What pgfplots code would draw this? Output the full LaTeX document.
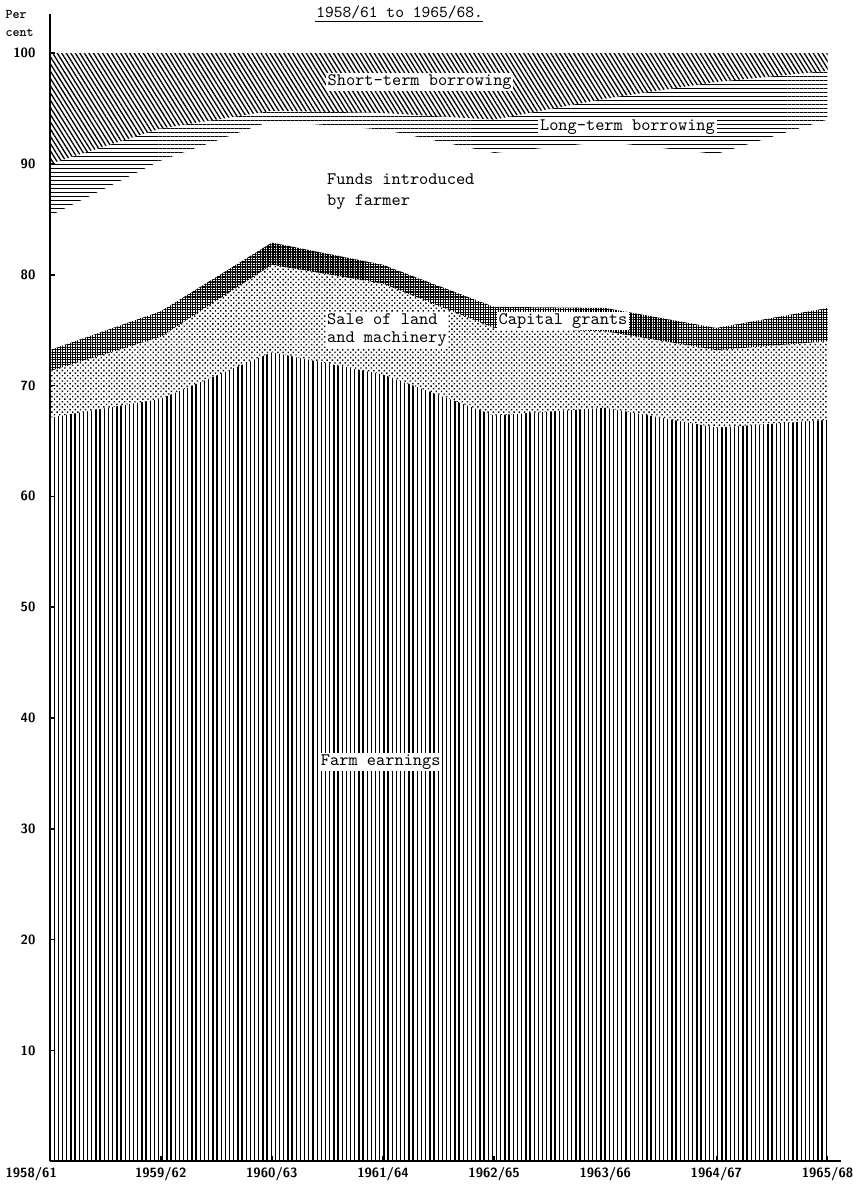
\documentclass[border=0pt]{standalone}
\usepackage{pgfplots}
\usepackage{pgfplotstable}
\pgfplotsset{compat=1.18}
\usetikzlibrary{patterns.meta}
\pgfplotstableread{
x farm sale capital funds long short
0 67.1 4.2 1.9 12.1 4.7 10.0
1 68.8 5.6 2.3 13.6 2.9 6.8
2 73.0 7.9 2.0 11.0 0.9 5.2
3 71.0 8.2 1.7 12.2 1.5 5.4
4 67.3 7.9 1.9 13.9 3.0 6.0
5 68.0 6.9 2.1 15.0 3.9 4.1
6 66.2 7.0 2.0 15.7 6.5 2.6
7 66.9 7.1 3.0 17.0 4.4 1.6
}\data
\begin{document}
\begin{tikzpicture}
\begin{axis}[
  scale only axis, width=474pt, height=687pt,
  xmin=0, xmax=7.12, ymin=0, ymax=103.5,
  axis lines*=left,
  axis line style={line width=1.3pt},
  xtick={0,...,7},
  xticklabels={\hspace*{-22pt}1958/61,1959/62,1960/63,1961/64,1962/65,1963/66,1964/67,1965/68},
  ytick={10,20,...,100},
  tick align=inside, major tick length=3pt,
  tick style={black, line width=1pt},
  /pgf/number format/assume math mode=true,
  ticklabel style={font=\sffamily\bfseries\fontsize{8}{9}\selectfont},
  yticklabel style={xshift=-5pt},
  stack plots=y, clip=false,
]
\addplot[draw=none, pattern={Lines[angle=90,distance=2.5pt,line width=0.8pt]}] table[x=x,y=farm]{\data} \closedcycle;
\addplot[draw=none, pattern={Dots[angle=45,distance=2.2pt,radius=0.6pt]}] table[x=x,y=sale]{\data} \closedcycle;
\addplot[draw=none, pattern={Hatch[angle=0,distance=1.5pt,line width=0.7pt]}] table[x=x,y=capital]{\data} \closedcycle;
\addplot[draw=none, fill=none] table[x=x,y=funds]{\data} \closedcycle;
\addplot[draw=none, pattern={Lines[angle=0,distance=2.4pt,line width=0.7pt]}] table[x=x,y=long]{\data} \closedcycle;
\addplot[draw=none, pattern={Lines[angle=-58,distance=2.3pt,line width=0.8pt]}] table[x=x,y=short]{\data} \closedcycle;

\coordinate (cShort) at (axis cs:3.33,97.4);
\coordinate (cLong) at (axis cs:5.2,93.3);
\coordinate (cFunds) at (axis cs:2.48,87.5);
\coordinate (cSale) at (axis cs:2.48,75.0);
\coordinate (cCap) at (axis cs:4.62,75.8);
\coordinate (cFarm) at (axis cs:2.98,36.0);
\coordinate (cTitle) at (axis cs:3.15,103.25);
\coordinate (cUL) at (axis cs:2.39,102.85);
\coordinate (cUR) at (axis cs:3.9,102.85);
\coordinate (cPer) at (axis cs:-0.27,102.7);
\end{axis}
\begin{scope}[every node/.style={font=\ttfamily\fontsize{10.5}{12}\selectfont}]
\node[fill=white, inner sep=1pt] at (cShort) {Short-term borrowing};
\node[fill=white, inner sep=1pt] at (cLong) {Long-term borrowing};
\node[anchor=west, align=left, inner sep=1pt] at (cFunds) {Funds introduced\\by farmer};
\node[anchor=west, align=left, fill=white, inner sep=1pt, font=\ttfamily\fontsize{10.5}{11}\selectfont] at (cSale) {Sale of land\\and machinery};
\node[fill=white, inner sep=1pt] at (cCap) {Capital grants};
\node[fill=white, inner sep=1pt] at (cFarm) {Farm earnings};
\node[anchor=base, font=\ttfamily\fontsize{10}{12}\selectfont] at (cTitle) {1958/61 to 1965/68.};
\node[align=left, font=\ttfamily\bfseries\fontsize{8}{11}\selectfont] at (cPer) {Per\\cent};
\end{scope}
\draw[line width=1.1pt] (cUL) -- (cUR);
\end{tikzpicture}
\end{document}
